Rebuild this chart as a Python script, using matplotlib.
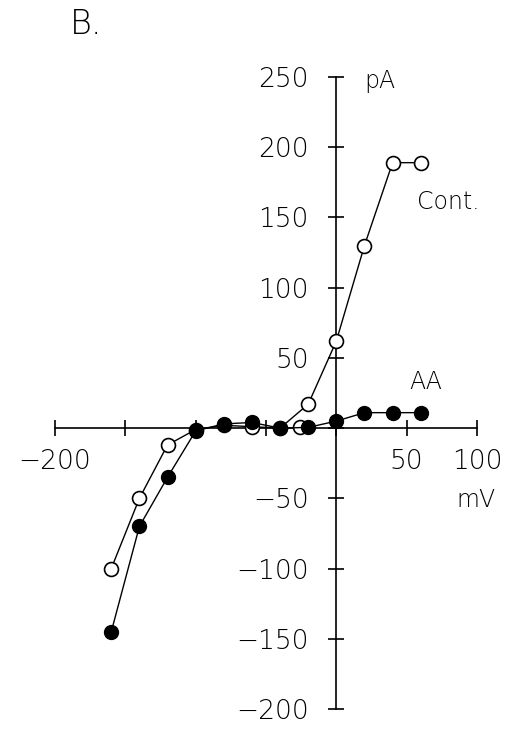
import matplotlib
matplotlib.use("Agg")
import matplotlib.pyplot as plt

# membrane potential (mV) and current (pA)
mv = [-160, -140, -120, -100, -80, -60, -40, -20, 0, 20, 40, 60]
cont = [-100, -50, -12, -1, 2, 1, 0, 17, 62, 130, 189, 189]
aa = [-145, -70, -35, -2, 3, 4, 0, 0.5, 5, 11, 11, 11]
stray_mv = [-26]
stray_pa = [1]

yticks = [-200, -150, -100, -50, 0, 50, 100, 150, 200, 250]
ylabels = ["\u2212200", "\u2212150", "\u2212100", "\u221250", "", "50", "100", "150", "200", "250"]
xticks = [-200, -150, -100, -50, 0, 50, 100]
xlabels = ["\u2212200", "", "", "", "", "50", "100"]

plt.rcParams['font.family'] = ['DejaVu Sans']
plt.rcParams['font.weight'] = 'light'
fig = plt.figure(figsize=(5.21, 7.29), dpi=100)
ax = fig.add_axes([55 / 521, 20 / 729, 422 / 521, 632 / 729])
ax.set_xlim(-200, 100)
ax.set_ylim(-200, 250)

ax.plot(mv, cont, color='black', lw=1.0, marker='o', ms=10,
        mfc='white', mec='black', mew=1.2, zorder=3)
ax.plot(stray_mv, stray_pa, ls='none', marker='o', ms=10,
        mfc='white', mec='black', mew=1.2, zorder=3)
ax.plot(mv, aa, color='black', lw=1.0, marker='o', ms=10,
        mfc='black', mec='black', zorder=4)

for s in ['top', 'right']:
    ax.spines[s].set_visible(False)
ax.spines['left'].set_position(('data', 0))
ax.spines['bottom'].set_position(('data', 0))
ax.spines['left'].set_linewidth(1.2)
ax.spines['bottom'].set_linewidth(1.2)

ax.set_yticks(yticks)
ax.set_yticklabels(ylabels)
ax.set_xticks(xticks)
ax.set_xticklabels(xlabels)
ax.tick_params(axis='both', direction='inout', length=12, width=1.2,
               labelsize=19, colors='black')
ax.tick_params(axis='y', pad=14)
ax.tick_params(axis='x', pad=9)
for lab in ax.get_xticklabels() + ax.get_yticklabels():
    lab.set_fontweight('light')

ax.text(20, 247, "pA", fontsize=17, va='center', ha='left', fontweight='light')
ax.text(57, 161, "Cont.", fontsize=17, va='center', ha='left', fontweight='light')
ax.text(52, 33, "AA", fontsize=17, va='center', ha='left', fontweight='light')
ax.text(85, -51, "mV", fontsize=17, va='center', ha='left', fontweight='light')
fig.text(70 / 521, 1 - 24 / 729, "B.", fontsize=24, va='center', ha='left',
         fontweight='light')

fig.savefig("out.png", dpi=100)
